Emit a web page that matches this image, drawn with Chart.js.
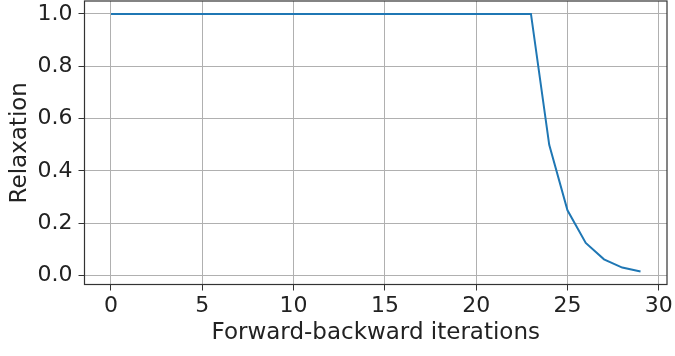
<!DOCTYPE html>
<html>
<head>
<meta charset="utf-8">
<script src="https://cdn.jsdelivr.net/npm/chart.js@4"></script>
<style>
  html, body { margin:0; padding:0; background:#fff; }
  #wrap { width:675px; height:356px; }
</style>
</head>
<body>
<div id="wrap"><canvas id="chart" width="675" height="356"></canvas></div>
<script>
// iteration index and relaxation value
const iterations = [0,1,2,3,4,5,6,7,8,9,10,11,12,13,14,15,16,17,18,19,20,21,22,23,24,25,26,27,28,29];
const relaxation = [1,1,1,1,1,1,1,1,1,1,1,1,1,1,1,1,1,1,1,1,1,1,1,1,0.5,0.25,0.125,0.0625,0.031,0.016];
const xTicks = [0,5,10,15,20,25,30];
const yTicks = [0.0,0.2,0.4,0.6,0.8,1.0];

const FONT = "'DejaVu Sans', sans-serif";
const gridColor = "#b0b0b0";

// matplotlib draws a full box round the axes
const frameBox = {
  id: "frameBox",
  afterDraw(chart){
    const {ctx, chartArea:a} = chart;
    ctx.save();
    ctx.strokeStyle = "#333";
    ctx.lineWidth = 1.2;
    ctx.strokeRect(a.left, a.top, a.right - a.left, a.bottom - a.top);
    ctx.restore();
  }
};

new Chart(document.getElementById("chart"), {
  type: "line",
  data: {
    datasets: [{
      data: iterations.map((x,i)=>({x, y: relaxation[i]})),
      borderColor: "#1f77b4",
      borderWidth: 2,
      pointRadius: 0,
      tension: 0
    }]
  },
  options: {
    responsive: false,
    animation: false,
    parsing: false,
    layout: { padding: { top: 1, right: 8, left: 0, bottom: 0 } },
    plugins: { legend: { display:false }, tooltip: { enabled:false } },
    scales: {
      x: {
        type: "linear", min: -1.45, max: 30.45,
        afterBuildTicks: s => { s.ticks = xTicks.map(v=>({value:v})); },
        afterFit: s => { s.height = 71.5; s.paddingLeft = 0; s.paddingRight = 0; },
        ticks: { color:"#222", font:{ family:FONT, size:22 }, padding: 3, maxRotation:0 },
        grid: { color: gridColor, lineWidth: 1, tickLength: 6, tickColor:"#333" },
        border: { display:false },
        title: { display:true, text:"Forward-backward iterations", color:"#222",
                 font:{ family:FONT, size:23 }, padding:{ top:0, bottom:9 } }
      },
      y: {
        min: -0.0336, max: 1.0492,
        afterBuildTicks: s => { s.ticks = yTicks.map(v=>({value:v})); },
        afterFit: s => { s.width = 84.5; s.paddingTop = 0; s.paddingBottom = 0; },
        ticks: { color:"#222", font:{ family:FONT, size:22 }, padding: 6,
                 callback: v => v.toFixed(1) },
        grid: { color: gridColor, lineWidth: 1, tickLength: 6, tickColor:"#333" },
        border: { display:false },
        title: { display:true, text:"Relaxation", color:"#222",
                 font:{ family:FONT, size:23 }, padding:{ top:6, bottom:4 } }
      }
    }
  },
  plugins: [frameBox]
});
</script>
</body>
</html>
